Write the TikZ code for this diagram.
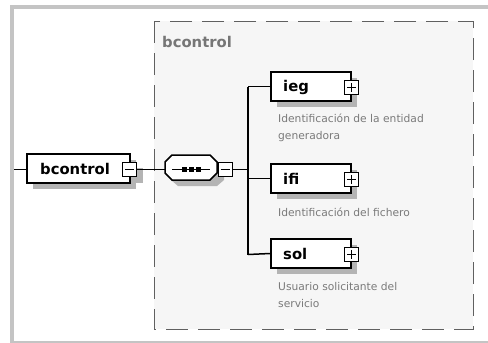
\documentclass[tikz,border=0pt]{standalone}
\usepackage{fontspec}
\setmainfont{DejaVu Sans}
\usetikzlibrary{calc}
\definecolor{frameg}{HTML}{C4C4C4}
\definecolor{boxbg}{HTML}{F6F6F6}
\definecolor{dashc}{HTML}{606060}
\definecolor{shadowc}{HTML}{B4B4B4}
\definecolor{descc}{HTML}{7A7A7A}
\definecolor{titlec}{HTML}{767676}
\tikzset{
  elem/.style={draw=black, line width=1.5pt, fill=white, minimum height=29pt, inner sep=0pt},
  pm/.style={draw=black, line width=1.2pt, fill=white, minimum width=14pt, minimum height=14pt, inner sep=0pt},
  lbl/.style={anchor=west, inner sep=0pt, font=\fontsize{14.8}{14}\selectfont\bfseries},
  desc/.style={anchor=west, inner sep=0pt, text=descc, font=\fontsize{10.7}{17}\selectfont, align=left},
  conn/.style={line width=1.5pt}
}
\begin{document}
\begin{tikzpicture}[x=1pt,y=-1pt]
\useasboundingbox (0,0) rectangle (488,343);
\fill[white] (0,0) rectangle (488,343);
% outer frame
\fill[frameg] (10,5) rectangle (488,9);
\fill[frameg] (10,5) rectangle (14,343);
\fill[frameg] (10,340.5) rectangle (488,343);
% dashed group box
\draw[dashc, fill=boxbg, line width=1pt, dash pattern=on 22pt off 10pt] (154,21) rectangle (473,329);
\node[inner sep=0pt, anchor=west, text=titlec, font=\fontsize{14.8}{14}\selectfont\bfseries] (title) at (162,42) {bcontrol};
% shadows
\fill[shadowc] (33,160) rectangle (136,189);
\fill[shadowc] (129,168) rectangle (143,183);
\fill[shadowc] (171,166) -- (178,161) -- (217,161) -- (224,168) -- (224,180) -- (217,186) -- (178,186) -- (171,180) -- cycle;
\foreach \y in {72,164,239}{
  \fill[shadowc] (277,\y+6) rectangle (357,\y+35);
}
% root element
\node[elem, minimum width=103pt] (root) at (78.5,168.5) {};
\node[lbl] (rootl) at (40,169) {bcontrol};
\node[pm] (rootm) at (129.5,169.5) {};
\draw[line width=1.2pt] ($(rootm.west)+(3,0)$) -- ($(rootm.east)+(-3,0)$);
\coordinate (start) at (14,169.5);
% sequence
\node[minimum width=52pt, minimum height=25pt, inner sep=0pt] (seq) at (191,167.5) {};
\draw[line width=1.5pt, fill=white] (165,162) -- (172,155) -- (210,155) -- (217,162) -- (217,173) -- (210,180) -- (172,180) -- (165,173) -- cycle;
\draw[line width=1.2pt] (172,169.5) -- (210,169.5);
\foreach \x in {184,191,198}{ \fill (\x-2.5,167) rectangle (\x+2.5,172); }
\node[pm, anchor=west] (seqm) at (217.5,169.5) {};
\draw[line width=1.2pt] ($(seqm.west)+(3,0)$) -- ($(seqm.east)+(-3,0)$);
\coordinate (bus) at (248,169.5);
\coordinate (bustop) at (248,86.5);
\coordinate (busbot) at (248,254.5);
% children
\node[elem, minimum width=80pt] (ieg) at (311,86.5) {};
\node[elem, minimum width=80pt] (ifi) at (311,178.5) {};
\node[elem, minimum width=80pt] (sol) at (311,253.5) {};
\foreach \n in {ieg,ifi,sol}{
  \node[pm] (\n p) at ($(\n.east)+(0,1)$) {};
  \draw[line width=1.2pt] ($(\n p.west)+(3,0)$) -- ($(\n p.east)+(-3,0)$);
  \draw[line width=1.2pt] ($(\n p.north)+(0,3)$) -- ($(\n p.south)+(0,-3)$);
}
\node[lbl] (iegl) at (283,87) {ieg};
\node[lbl] (ifil) at (283,179) {ifi};
\node[lbl] (soll) at (283,254) {sol};
\node[desc] (iegd) at (278,127.5) {Identificación de la entidad\\generadora};
\node[desc] (ifid) at (278,212) {Identificación del fichero};
\node[desc] (sold) at (278,295.5) {Usuario solicitante del\\servicio};
% connectors
\draw[conn] (start) -- (root.west |- start);
\draw[conn] (rootm.east) -- (seq.west |- rootm.east);
\draw[conn] (seqm.east) -- (bus);
\draw[conn] (bustop) -- (busbot);
\draw[conn] (bustop) -- (ieg.west);
\draw[conn] (ifi.west -| bus) -- (ifi.west);
\draw[conn] (busbot) -- (sol.west);
\end{tikzpicture}
\end{document}
